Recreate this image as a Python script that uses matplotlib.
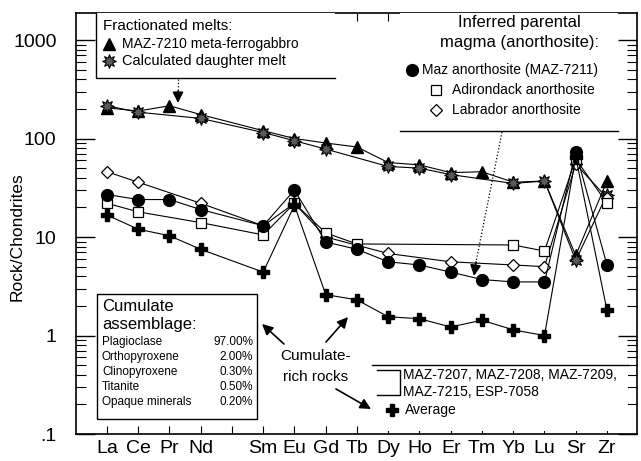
import matplotlib
matplotlib.use("Agg")
import matplotlib.pyplot as plt
from matplotlib.patches import Rectangle
from matplotlib.ticker import FixedLocator, FixedFormatter, LogLocator, NullFormatter
import numpy as np

plt.rcParams['font.family'] = ['Liberation Sans', 'DejaVu Sans']

nan = np.nan
# Elemente (Pm ohne Daten, nur Lücke)
elements = ['La', 'Ce', 'Pr', 'Nd', 'Pm', 'Sm', 'Eu', 'Gd', 'Tb', 'Dy', 'Ho', 'Er', 'Tm', 'Yb', 'Lu', 'Sr', 'Zr']
tick_names = ['La', 'Ce', 'Pr', 'Nd', '', 'Sm', 'Eu', 'Gd', 'Tb', 'Dy', 'Ho', 'Er', 'Tm', 'Yb', 'Lu', 'Sr', 'Zr']

# Rock/Chondrites
maz7210 = [205, 190, 215, 175, nan, 120, 100, 90, 82, 57, 54, 45, 46, 36, 37, 6.5, 37]
daughter = [215, 185, nan, 160, nan, 115, 95, 78, nan, 52, 50, 43, nan, 35, 37, 5.8, 27]
maz7211 = [27, 24, 24, 19, nan, 13, 30, 8.9, 7.5, 5.6, 5.2, 4.4, 3.7, 3.5, 3.5, 73, 5.2]
adirondack = [22, 18, nan, 14, nan, 10.5, 22, 11, 8.5, nan, nan, nan, nan, 8.3, 7.2, 62, 22]
labrador = [46, 36, nan, 22, nan, 13, 22, 10, nan, 6.8, nan, 5.6, nan, 5.2, 5.0, 55, 25]
average = [16.7, 12, 10.3, 7.5, nan, 4.4, 21, 2.6, 2.3, 1.55, 1.48, 1.22, 1.43, 1.14, 1.0, 65, 1.8]

minerals = ['Plagioclase', 'Orthopyroxene', 'Clinopyroxene', 'Titanite', 'Opaque minerals']
mineral_pct = ['97.00%', '2.00%', '0.30%', '0.50%', '0.20%']

W, H = 641, 461
fig = plt.figure(figsize=(W / 100, H / 100), dpi=100)

# Achse in Pixeln: links 76, rechts 637, oben 13, unten 434
L, R, T, B = 76, 637, 13, 434
ax = fig.add_axes([L / W, 1 - B / H, (R - L) / W, (B - T) / H])
x = np.arange(len(elements))


def series(vals, **kw):
    v = np.array(vals, dtype=float)
    m = ~np.isnan(v)
    ax.plot(x[m], v[m], color='black', lw=0.8, **kw)


series(maz7210, marker='^', ms=8, mfc='black', mec='black')
series(daughter, marker=(8, 1, 0), ms=10, mfc='0.35', mec='black', mew=0.8)
series(labrador, marker='D', ms=6, mfc='white', mec='black', mew=0.9)
series(adirondack, marker='s', ms=7, mfc='white', mec='black', mew=0.9)
series(maz7211, marker='o', ms=8.5, mfc='black', mec='black')
series(average, marker='P', ms=9, mfc='black', mec='black')

ax.set_yscale('log')
ax.set_ylim(0.1, 1880)
ax.set_xlim(-0.99, 16.96)
ax.yaxis.set_major_locator(FixedLocator([0.1, 1, 10, 100, 1000]))
ax.yaxis.set_major_formatter(FixedFormatter(['.1', '1', '10', '100', '1000']))
ax.yaxis.set_minor_locator(LogLocator(base=10, subs=np.arange(2, 10)))
ax.yaxis.set_minor_formatter(NullFormatter())
ax.set_xticks(x)
ax.set_xticklabels(tick_names)
ax.tick_params(axis='y', which='major', direction='in', length=14, width=1, right=True, labelsize=14, pad=14)
ax.tick_params(axis='y', which='minor', direction='in', length=7, width=0.8, right=True)
ax.tick_params(axis='x', direction='in', length=6, width=0.8, top=True, labelsize=14, pad=4)
ax.set_ylabel('Rock/Chondrites', fontsize=12.5)
ax.yaxis.set_label_coords(-0.092, 0.47)
for s in ax.spines.values():
    s.set_linewidth(1.2)

# Overlay für Legenden und Pfeile (Pixelkoordinaten)
ov = fig.add_axes([0, 0, 1, 1], zorder=5)
ov.set_xlim(0, W)
ov.set_ylim(H, 0)
ov.axis('off')
ov.patch.set_alpha(0)

# Fraktionierte Schmelzen
ov.add_patch(Rectangle((96, 13), 239, 65, fc='white', ec='none'))
ov.plot([96, 96, 335], [13, 78, 78], color='black', lw=1)
ov.text(103, 26, 'Fractionated melts:', fontsize=11, va='center')
ov.plot(109, 44, marker='^', ms=8, color='black')
ov.text(122, 44, 'MAZ-7210 meta-ferrogabbro', fontsize=10, va='center')
ov.plot(109, 61, marker=(8, 1, 0), ms=10, mfc='0.35', mec='black', mew=0.8)
ov.text(122, 61, 'Calculated daughter melt', fontsize=10.5, va='center')

# Parentalmagma
ov.add_patch(Rectangle((400, 13), 218, 118, fc='white', ec='none'))
ov.plot([400, 618], [131, 131], color='black', lw=1)
ov.text(519, 23, 'Inferred parental', fontsize=12, va='center', ha='center')
ov.text(519, 43, 'magma (anorthosite):', fontsize=12, va='center', ha='center')
ov.plot(412, 70, marker='o', ms=8.5, color='black')
ov.text(422, 70, 'Maz anorthosite (MAZ-7211)', fontsize=10, va='center')
ov.plot(436, 90, marker='s', ms=7, mfc='white', mec='black', mew=0.9)
ov.text(452, 90, 'Adirondack anorthosite', fontsize=10, va='center')
ov.plot(436, 110, marker='D', ms=6, mfc='white', mec='black', mew=0.9)
ov.text(452, 110, 'Labrador anorthosite', fontsize=10, va='center')

# Kumulat-Zusammensetzung
ov.add_patch(Rectangle((97, 294), 160, 125, fc='white', ec='black', lw=1))
ov.text(102, 306, 'Cumulate', fontsize=12, va='center')
ov.text(102, 324, 'assemblage:', fontsize=12, va='center')
for i, (name, pct) in enumerate(zip(minerals, mineral_pct)):
    yy = 342 + i * 15
    ov.text(102, yy, name, fontsize=8.5, va='center')
    ov.text(253, yy, pct, fontsize=8.5, va='center', ha='right')

# Kumulatreiche Gesteine
ov.add_patch(Rectangle((372, 365), 256, 66, fc='white', ec='none'))
ov.plot([372, 628], [365, 365], color='black', lw=1)
ov.plot([377, 400, 400, 377], [370, 370, 395, 395], color='black', lw=1)
ov.text(403, 375, 'MAZ-7207, MAZ-7208, MAZ-7209,', fontsize=10, va='center')
ov.text(403, 392, 'MAZ-7215, ESP-7058', fontsize=10, va='center')
ov.plot(392, 410, marker='P', ms=9, color='black')
ov.text(405, 410, 'Average', fontsize=10, va='center')

ov.text(280, 356, 'Cumulate-', fontsize=11, va='center')
ov.text(283, 377, 'rich rocks', fontsize=11, va='center')

arrow = dict(arrowstyle='-|>', color='black', lw=1.2, mutation_scale=16, shrinkA=0, shrinkB=0)
ov.annotate('', xy=(262, 324), xytext=(284, 344), arrowprops=arrow)
ov.annotate('', xy=(348, 317), xytext=(326, 342), arrowprops=arrow)
ov.annotate('', xy=(371, 409), xytext=(336, 389), arrowprops=arrow)

ov.plot([502, 476], [132, 262], color='black', lw=0.9, ls=':')
ov.annotate('', xy=(474, 276), xytext=(476, 262), arrowprops=arrow)
ov.plot([178, 178], [79, 92], color='black', lw=0.9, ls=':')
ov.annotate('', xy=(178, 103), xytext=(178, 91), arrowprops=arrow)

fig.savefig('out.png', dpi=100)
